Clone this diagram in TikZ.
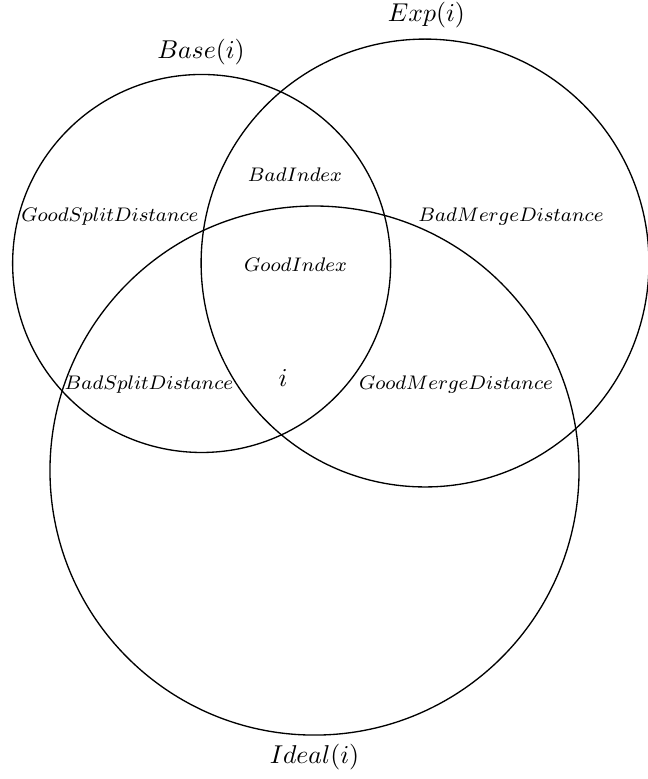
\documentclass[tikz,border=0pt]{standalone}
\usepackage{graphicx}
\newcommand{\bigtxt}[1]{\scalebox{0.97}{$#1$}}
\newcommand{\smalltxt}[1]{\scalebox{0.925}{\footnotesize$#1$}}
\begin{document}
\begin{tikzpicture}[
  setcircle/.style={draw=black, line width=0.5pt},
  biglabel/.style={inner sep=0pt},
  smalllabel/.style={inner sep=0pt}
]
\useasboundingbox (0,0) rectangle (8.571,-10.304);
% circles
\draw[setcircle] (2.667,-3.485) circle (2.5);
\draw[setcircle] (5.622,-3.479) circle (2.962);
\draw[setcircle] (4.160,-6.224) circle (3.499);
% set labels
\node[biglabel] (base) at (2.659,-0.688) {\bigtxt{Base(i)}};
\node[biglabel] (exp) at (5.640,-0.198) {\bigtxt{Exp(i)}};
\node[biglabel] (ideal) at (4.160,-10.013) {\bigtxt{Ideal(i)}};
% region labels
\node[smalllabel] (badindex) at (3.902,-2.315) {\smalltxt{BadIndex}};
\node[smalllabel] (goodsplit) at (1.455,-2.870) {\smalltxt{GoodSplitDistance}};
\node[smalllabel] (badmerge) at (6.759,-2.870) {\smalltxt{BadMergeDistance}};
\node[smalllabel] (goodindex) at (3.909,-3.505) {\smalltxt{GoodIndex}};
\node[smalllabel] (badsplit) at (1.971,-5.093) {\smalltxt{BadSplitDistance}};
\node[biglabel] (ii) at (3.745,-5.0) {\bigtxt{i}};
\node[smalllabel] (goodmerge) at (6.032,-5.093) {\smalltxt{GoodMergeDistance}};
\end{tikzpicture}
\end{document}
